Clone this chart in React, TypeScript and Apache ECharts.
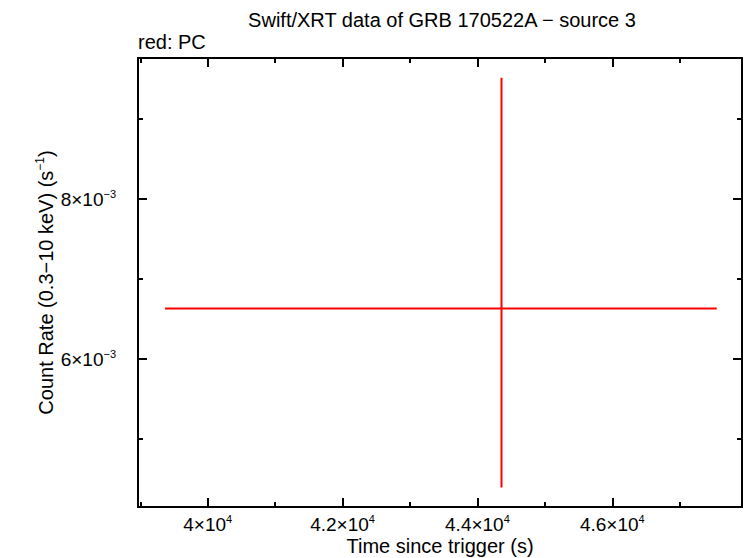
import React, { useEffect, useRef } from "react";
import * as echarts from "echarts";

// ---- Data ----
const times = [44357];          // s since trigger
const timeErrNeg = [4990];
const timeErrPos = [3192];
const rates = [0.0066325];      // counts / s
const rateErrNeg = [0.002238];
const rateErrPos = [0.002884];

const xMajorTicks = [40000, 42000, 44000, 46000];
const xMinorTicks = [39000, 41000, 43000, 45000, 47000];
const yMajorTicks = [0.006, 0.008];
const yMinorTicks = [0.005, 0.007, 0.009];

const X_MIN = 38966;
const X_MAX = 47924;
const Y_MIN = 0.00415;
const Y_MAX = 0.0097625;

const FONT = "'Liberation Sans', Arial, Helvetica, sans-serif";

const richLabel = {
  b: { fontSize: 19, lineHeight: 22, fontFamily: FONT, color: "#000" },
  s: { fontSize: 11, lineHeight: 16, verticalAlign: "top", fontFamily: FONT, color: "#000" },
};

const fmtX = (v: number) => {
  const m = Math.round((v / 1e4) * 10) / 10;
  return `{b|${m}×10}{s|4}`;
};
const fmtY = (v: number) => {
  const m = Math.round(v / 1e-3);
  return `{b|${m}×10}{s|−3}`;
};

function makeX(position: "top" | "bottom", ticks: number[], len: number, labels: boolean, name?: string) {
  const ax: any = {
    type: "value",
    position,
    min: X_MIN,
    max: X_MAX,
    axisLine: { show: false },
    splitLine: { show: false },
    axisTick: {
      show: true,
      inside: true,
      length: len,
      customValues: ticks,
      lineStyle: { color: "#000", width: 2 },
    },
    axisLabel: labels
      ? { show: true, customValues: ticks, margin: 6, formatter: fmtX, rich: richLabel }
      : { show: false },
  };
  if (name) {
    ax.name = name;
    ax.nameLocation = "middle";
    ax.nameGap = 29;
    ax.nameMoveOverlap = false;
    ax.nameTextStyle = { fontSize: 20, fontFamily: FONT, color: "#000" };
  }
  return ax;
}

function makeY(position: "left" | "right", ticks: number[], len: number, labels: boolean, name?: string) {
  const ax: any = {
    type: "value",
    position,
    min: Y_MIN,
    max: Y_MAX,
    axisLine: { show: false },
    splitLine: { show: false },
    axisTick: {
      show: true,
      inside: true,
      length: len,
      customValues: ticks,
      lineStyle: { color: "#000", width: 2 },
    },
    axisLabel: labels
      ? { show: true, customValues: ticks, margin: 22, formatter: fmtY, rich: richLabel }
      : { show: false },
  };
  if (name) {
    ax.name = name;
    ax.nameLocation = "middle";
    ax.nameGap = 80;
    ax.nameRotate = 90;
    ax.nameMoveOverlap = false;
    ax.nameTextStyle = {
      fontSize: 20,
      fontFamily: FONT,
      color: "#000",
      rich: {
        n: { fontSize: 20, lineHeight: 24, fontFamily: FONT, color: "#000" },
        s: { fontSize: 12, lineHeight: 16, verticalAlign: "top", fontFamily: FONT, color: "#000" },
      },
    };
  }
  return ax;
}

export default function App() {
  const ref = useRef<HTMLDivElement>(null);

  useEffect(() => {
    if (!ref.current) return;
    const chart = echarts.init(ref.current, undefined, { renderer: "svg" });

    const data = times.map((t, i) => [
      t,
      rates[i],
      t - timeErrNeg[i],
      t + timeErrPos[i],
      rates[i] - rateErrNeg[i],
      rates[i] + rateErrPos[i],
    ]);

    const option: any = {
      animation: false,
      backgroundColor: "#fff",
      textStyle: { fontFamily: FONT },
      grid: {
        left: 138,
        right: 4,
        top: 58,
        bottom: 51,
        show: true,
        borderColor: "#000",
        borderWidth: 2,
        backgroundColor: "transparent",
        containLabel: false,
        outerBoundsMode: "none",
      },
      xAxis: [
        makeX("bottom", xMajorTicks, 9, true, "Time since trigger (s)"),
        makeX("bottom", xMinorTicks, 5, false),
        makeX("top", xMajorTicks, 9, false),
        makeX("top", xMinorTicks, 5, false),
      ],
      yAxis: [
        makeY("left", yMajorTicks, 9, true, "{n|Count Rate (0.3−10 keV) (s}{s|−1}{n|)}"),
        makeY("left", yMinorTicks, 5, false),
        makeY("right", yMajorTicks, 9, false),
        makeY("right", yMinorTicks, 5, false),
      ],
      graphic: [
        {
          type: "text",
          x: 442,
          y: 20,
          style: {
            text: "Swift/XRT data of GRB 170522A − source 3",
            font: `20px ${FONT}`,
            fill: "#000",
            textAlign: "center",
            textVerticalAlign: "middle",
          },
        },
        {
          type: "text",
          x: 138,
          y: 42,
          style: {
            text: "red: PC",
            font: `20px ${FONT}`,
            fill: "#000",
            textAlign: "left",
            textVerticalAlign: "middle",
          },
        },
      ],
      series: [
        {
          type: "custom",
          name: "PC",
          xAxisIndex: 0,
          yAxisIndex: 0,
          data,
          encode: { x: [0, 2, 3], y: [1, 4, 5] },
          renderItem: (params: any, api: any) => {
            const x = api.value(0);
            const y = api.value(1);
            const l = api.coord([api.value(2), y]);
            const r = api.coord([api.value(3), y]);
            const b = api.coord([x, api.value(4)]);
            const t = api.coord([x, api.value(5)]);
            const style = { stroke: "#ff0000", lineWidth: 2 };
            return {
              type: "group",
              children: [
                { type: "line", shape: { x1: l[0], y1: l[1], x2: r[0], y2: r[1] }, style },
                { type: "line", shape: { x1: b[0], y1: b[1], x2: t[0], y2: t[1] }, style },
              ],
            };
          },
        },
      ],
    };

    chart.setOption(option);
    return () => chart.dispose();
  }, []);

  return (
    <div
      ref={ref}
      style={{ position: "absolute", left: 0, top: 0, width: 746, height: 558, background: "#fff" }}
    />
  );
}
